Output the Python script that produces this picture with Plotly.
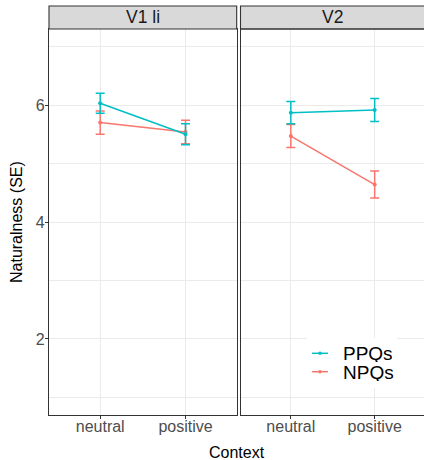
import plotly.graph_objects as go

# Naturalness ratings (mean and standard error) by context, per verb condition
contexts = ["neutral", "positive"]
panels = ["V1 li", "V2"]
series_names = ["PPQs", "NPQs"]

ppq_v1_mean = [6.03, 5.50]
ppq_v1_se = [0.17, 0.18]
npq_v1_mean = [5.70, 5.54]
npq_v1_se = [0.20, 0.20]

ppq_v2_mean = [5.87, 5.915]
ppq_v2_se = [0.19, 0.195]
npq_v2_mean = [5.47, 4.64]
npq_v2_se = [0.195, 0.23]

PPQ_COLOR = "#00BFC4"
NPQ_COLOR = "#F8766D"
FONT = "Liberation Sans, Arial, sans-serif"

W, H = 424, 460
ML, MR, MT, MB = 49, 0, 29, 45
PW = W - ML - MR
PH = H - MT - MB

xpos = [1, 2]


def px_x(px):
    return (px - ML) / PW


def px_y(py):
    return (H - MB - py) / PH


fig = go.Figure()


def add_series(mean, se, color, name, xa, ya):
    fig.add_trace(go.Scatter(
        x=xpos, y=mean, mode="lines+markers", name=name,
        line=dict(color=color, width=1.5),
        marker=dict(color=color, size=4),
        error_y=dict(type="data", array=se, visible=True, color=color,
                     thickness=1.5, width=4.5),
        xaxis=xa, yaxis=ya, showlegend=False,
    ))


# NPQs drawn first so PPQs sits on top
add_series(npq_v1_mean, npq_v1_se, NPQ_COLOR, "NPQs", "x", "y")
add_series(ppq_v1_mean, ppq_v1_se, PPQ_COLOR, "PPQs", "x", "y")
add_series(npq_v2_mean, npq_v2_se, NPQ_COLOR, "NPQs", "x2", "y2")
add_series(ppq_v2_mean, ppq_v2_se, PPQ_COLOR, "PPQs", "x2", "y2")

left_dom = [0, px_x(236.7)]
right_dom = [px_x(240.5), 1]

xcommon = dict(
    tickmode="array", tickvals=xpos, ticktext=contexts,
    showgrid=True, gridcolor="#EBEBEB", gridwidth=1.1,
    zeroline=False, showline=True, linecolor="#333333", linewidth=1.1,
    ticks="outside", ticklen=3, tickcolor="#333333", tickwidth=1,
    tickfont=dict(family=FONT, size=16, color="#4D4D4D"),
    ticklabelstandoff=-6,
    fixedrange=True,
)
ycommon = dict(
    range=[0.70, 7.30], tickmode="array", tickvals=[2, 4, 6],
    showgrid=True, gridcolor="#EBEBEB", gridwidth=1.1,
    minor=dict(tickmode="array", tickvals=[1, 3, 5, 7], showgrid=True,
               gridcolor="#EBEBEB", gridwidth=0.55, ticks=""),
    zeroline=False, showline=True, linecolor="#333333", linewidth=1.1,
    fixedrange=True,
)

fig.update_layout(
    width=W, height=H,
    margin=dict(l=ML, r=MR, t=MT, b=MB, pad=0),
    paper_bgcolor="white", plot_bgcolor="white",
    font=dict(family=FONT, color="#1A1A1A"),
    xaxis=dict(domain=left_dom, range=[0.4, 2.6], mirror=True, **xcommon),
    xaxis2=dict(domain=right_dom, range=[0.4, 0.4 + (W - 240.5) * 2.2 / 184.5],
                anchor="y2", mirror=False, **xcommon),
    yaxis=dict(ticks="outside", ticklen=3, tickcolor="#333333", tickwidth=1,
               tickfont=dict(family=FONT, size=16, color="#4D4D4D"),
               ticklabelstandoff=-3,
               mirror=True, **ycommon),
    yaxis2=dict(anchor="x2", matches="y", showticklabels=False, ticks="",
                mirror=False, **ycommon),
    showlegend=False,
)

# strip headers
strip_top = 1 + (MT - 6) / PH
for i, (label, xref) in enumerate(zip(panels, ["x domain", "x2 domain"])):
    x1 = 1 if i == 0 else 1.02
    fig.add_shape(type="rect", xref=xref, yref="paper", x0=0, x1=x1,
                  y0=1, y1=strip_top, fillcolor="#D9D9D9",
                  line=dict(color="#333333", width=1.1), layer="above")
    fig.add_annotation(text=label, xref=xref, yref="paper", x=0.5,
                       y=(1 + strip_top) / 2, showarrow=False,
                       font=dict(family=FONT, size=17.5, color="#1A1A1A"),
                       xanchor="center", yanchor="middle")

# right panel top border
fig.add_shape(type="line", xref="x2 domain", yref="paper", x0=0, x1=1.02,
              y0=1, y1=1, line=dict(color="#333333", width=1.1))

# legend inside the V2 panel
fig.add_shape(type="rect", xref="paper", yref="paper",
              x0=px_x(307), x1=px_x(397), y0=px_y(388), y1=px_y(338),
              fillcolor="white", line=dict(width=0), layer="above")
legend_colors = [PPQ_COLOR, NPQ_COLOR]
legend_rows = [353.3, 371.7]
for name, color, ry in zip(series_names, legend_colors, legend_rows):
    fig.add_shape(type="line", xref="paper", yref="paper",
                  x0=px_x(312), x1=px_x(328), y0=px_y(ry), y1=px_y(ry),
                  line=dict(color=color, width=1.5), layer="above")
    fig.add_shape(type="circle", xref="paper", yref="paper",
                  x0=px_x(318.3), x1=px_x(321.7), y0=px_y(ry + 1.7), y1=px_y(ry - 1.7),
                  fillcolor=color, line=dict(width=0), layer="above")
    fig.add_annotation(text=name, xref="paper", yref="paper",
                       x=px_x(341), y=px_y(ry), showarrow=False,
                       font=dict(family=FONT, size=19, color="#000000"),
                       height=18, valign="middle",
                       xanchor="left", yanchor="middle")

# axis titles
fig.add_annotation(text="Naturalness (SE)", xref="paper", yref="paper",
                   x=px_x(16), y=0.5, textangle=-90, showarrow=False,
                   font=dict(family=FONT, size=16, color="#000000"),
                   xanchor="center", yanchor="middle")
fig.add_annotation(text="Context", xref="paper", yref="paper",
                   x=px_x(237), y=px_y(453), showarrow=False,
                   font=dict(family=FONT, size=16, color="#000000"),
                   xanchor="center", yanchor="middle")

fig.write_html("out.html", config={"displayModeBar": False})
